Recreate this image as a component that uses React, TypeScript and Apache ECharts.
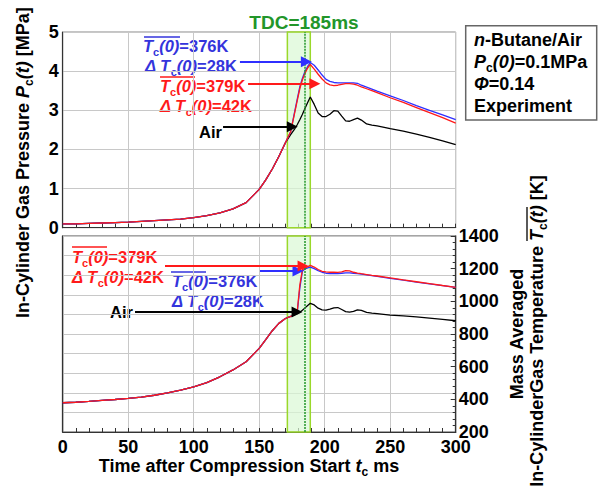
import React, { useEffect, useRef } from 'react';
import * as echarts from 'echarts';

// ---------- data ----------
const time = [0, 10, 20, 30, 40, 50, 60, 70, 80, 90, 100, 110, 120, 130, 140, 150, 155, 160, 165, 170,
  174, 177, 179, 181, 183, 185, 187, 189, 192, 195, 198, 201, 204, 207, 210, 213, 216, 219, 222, 225,
  228, 232, 236, 240, 250, 260, 270, 280, 290, 300];

// pressure [MPa], shared part up to 170 ms
const pressureCommon = [0.10, 0.10, 0.11, 0.12, 0.13, 0.14, 0.16, 0.18, 0.20, 0.22, 0.26, 0.31, 0.38, 0.48, 0.64, 0.98, 1.22, 1.50, 1.82, 2.17];
const pressureBlue = [2.45, 2.95, 3.28, 3.60, 3.82, 4.00, 4.12, 4.22, 4.15, 4.03, 3.90, 3.79, 3.74, 3.71, 3.70, 3.70, 3.70, 3.70, 3.70, 3.69, 3.64, 3.59, 3.54, 3.49, 3.37, 3.25, 3.12, 3.00, 2.88, 2.76];
const pressureRed = [2.45, 2.92, 3.24, 3.55, 3.78, 3.95, 4.08, 4.17, 4.05, 3.92, 3.80, 3.70, 3.65, 3.63, 3.64, 3.66, 3.68, 3.68, 3.67, 3.64, 3.60, 3.55, 3.50, 3.45, 3.32, 3.20, 3.07, 2.94, 2.81, 2.67];
const pressureAir = [2.38, 2.52, 2.63, 2.76, 2.90, 3.05, 3.20, 3.34, 3.15, 2.93, 2.84, 2.84, 2.90, 2.99, 2.98, 2.85, 2.73, 2.72, 2.76, 2.80, 2.75, 2.65, 2.62, 2.60, 2.53, 2.47, 2.39, 2.31, 2.22, 2.12];

// temperature [K], shared part up to 170 ms
const tempCommon = [379, 382, 387, 393, 399, 406, 414, 425, 440, 457, 477, 502, 538, 580, 630, 712, 765, 820, 865, 895];
const tempBlue = [908, 918, 930, 1080, 1185, 1198, 1205, 1210, 1200, 1188, 1178, 1172, 1170, 1170, 1170, 1172, 1174, 1174, 1172, 1170, 1166, 1162, 1157, 1153, 1141, 1130, 1118, 1107, 1096, 1085];
const tempRed = [908, 918, 935, 1100, 1195, 1205, 1212, 1220, 1210, 1195, 1183, 1180, 1178, 1178, 1177, 1180, 1188, 1186, 1178, 1173, 1169, 1164, 1159, 1155, 1143, 1131, 1120, 1109, 1097, 1086];
const tempAir = [908, 918, 925, 933, 945, 960, 975, 988, 978, 958, 948, 946, 952, 960, 962, 950, 937, 934, 938, 948, 945, 932, 928, 925, 916, 911, 905, 897, 889, 881];

const tdc = 185;
const tdcBand = [171.5, 189];

// ---------- styles ----------
const FONT = '"Liberation Sans", Arial, Helvetica, sans-serif';
const BLUE = '#2f2fff';
const BLUE_TXT = '#3434dc';
const RED = '#ff1a1a';
const GREEN = '#22962a';

const zip = (common: number[], tail: number[]) =>
  time.map((t, k) => [t, k < common.length ? common[k] : tail[k - common.length]]);

const mkRich = (color: string, size: number) => ({
  b: { fill: color, fontSize: size, fontWeight: 'bold', fontFamily: FONT, lineHeight: size + 6 },
  i: { fill: color, fontSize: size, fontWeight: 'bold', fontStyle: 'italic', fontFamily: FONT, lineHeight: size + 6 },
  s: { fill: color, fontSize: Math.round(size * 0.65), fontWeight: 'bold', fontFamily: FONT, lineHeight: 7, verticalAlign: 'bottom' },
});

const txt = (x: number, y: number, text: string, color: string, size: number, align = 'left') => ({
  type: 'text', x, y, silent: true,
  style: { text, rich: mkRich(color, size), fill: color, fontSize: size, fontWeight: 'bold', fontFamily: FONT, align, verticalAlign: 'middle' },
});

const over = (x: number, y: number, w: number, color: string) => ({
  type: 'line', silent: true,
  shape: { x1: x, y1: y, x2: x + w, y2: y },
  style: { stroke: color, lineWidth: 1.3 },
});

const arrow = (x1: number, x2: number, y: number, color: string) => ([
  { coord: [x1, y], symbol: 'none' },
  { coord: [x2, y], symbol: 'triangle', symbolSize: 11, lineStyle: { color, width: 2, type: 'solid' }, itemStyle: { color } },
]);

const bandArea = {
  silent: true,
  itemStyle: { color: 'rgba(218,248,212,0.7)', borderColor: '#9ad82a', borderWidth: 1.5 },
  data: [[{ xAxis: tdcBand[0] }, { xAxis: tdcBand[1] }]],
};

const tdcLine = { xAxis: tdc, symbol: 'none', lineStyle: { color: GREEN, width: 1.5, type: [2, 1] } };

const lineSeries = (name: string, data: number[][], color: string, xi: number, yi: number, extra: any = {}) => ({
  type: 'line', name, data, xAxisIndex: xi, yAxisIndex: yi, showSymbol: false, symbol: 'none',
  lineStyle: { color, width: 1.3 }, itemStyle: { color }, z: 3, ...extra,
});

const mkMark = (items: any[]) => ({
  silent: true, symbol: ['none', 'none'], label: { show: false },
  lineStyle: { type: 'solid' }, data: items,
});

const axisLabelStyle = { fontSize: 18, fontWeight: 'bold', color: '#000', fontFamily: FONT, lineHeight: 14 };
const gridLine = { show: true, lineStyle: { color: '#c8c8c8', width: 1 } };
const plain = (v: number) => String(v);

const option: any = {
  animation: false,
  backgroundColor: '#fff',
  grid: [
    { left: 62.7, top: 32, width: 393, height: 195.7, show: true, borderColor: '#888', borderWidth: 1 },
    { left: 62.7, top: 236, width: 393, height: 196, show: true, borderColor: '#888', borderWidth: 1.5 },
  ],
  xAxis: [
    {
      gridIndex: 0, type: 'value', min: 0, max: 300, interval: 50,
      axisLine: { lineStyle: { color: '#333', width: 1.2 } },
      axisTick: { show: true, inside: true, length: 4, lineStyle: { color: '#333' } },
      minorTick: { show: true, splitNumber: 5, length: 4, lineStyle: { color: '#333' } },
      axisLabel: { show: false }, splitLine: gridLine,
    },
    {
      gridIndex: 1, type: 'value', min: 0, max: 300, interval: 50,
      axisLine: { lineStyle: { color: '#333', width: 1.2 } },
      axisTick: { show: true, inside: true, length: 4, lineStyle: { color: '#333' } },
      minorTick: { show: true, splitNumber: 5, length: 4, lineStyle: { color: '#333' } },
      axisLabel: { ...axisLabelStyle, margin: 8, formatter: plain }, splitLine: gridLine,
    },
  ],
  yAxis: [
    {
      gridIndex: 0, type: 'value', min: 0, max: 5, interval: 1,
      axisLine: { show: true, lineStyle: { color: '#333', width: 1.2 } },
      axisTick: { show: false },
      axisLabel: { ...axisLabelStyle, margin: 4, formatter: plain }, splitLine: gridLine,
    },
    {
      gridIndex: 1, type: 'value', min: 0, max: 10, interval: 1,
      axisLine: { show: true, lineStyle: { color: '#333', width: 1.2 } },
      axisTick: { show: false }, axisLabel: { show: false }, splitLine: gridLine,
    },
    {
      gridIndex: 1, type: 'value', position: 'right', min: 200, max: 1400, interval: 200,
      axisLine: { show: true, lineStyle: { color: '#333', width: 1.2 } },
      axisTick: { show: true, inside: true, length: 5, lineStyle: { color: '#333' } },
      minorTick: { show: true, splitNumber: 5, length: 3, lineStyle: { color: '#333' } },
      axisLabel: { ...axisLabelStyle, margin: 3, formatter: plain }, splitLine: { show: false },
    },
  ],
  series: [
    lineSeries('Air P', zip(pressureCommon, pressureAir), '#000', 0, 0, {
      markArea: bandArea,
      markLine: mkMark([tdcLine, arrow(122.4, 175.3, 2.58, '#000')]),
    }),
    lineSeries('376K P', zip(pressureCommon, pressureBlue), BLUE, 0, 0, {
      markLine: mkMark([arrow(135.3, 186, 4.24, BLUE)]),
    }),
    lineSeries('379K P', zip(pressureCommon, pressureRed), RED, 0, 0, {
      markLine: mkMark([arrow(141.5, 192.5, 3.68, RED)]),
    }),
    lineSeries('Air T', zip(tempCommon, tempAir), '#000', 1, 2, {
      markArea: bandArea,
      markLine: mkMark([tdcLine, arrow(55.2, 178.9, 935, '#000')]),
    }),
    lineSeries('376K T', zip(tempCommon, tempBlue), BLUE, 1, 2, {
      markLine: mkMark([arrow(150.6, 179.6, 1186, BLUE)]),
    }),
    lineSeries('379K T', zip(tempCommon, tempRed), RED, 1, 2, {
      markLine: mkMark([arrow(78.1, 183.5, 1216, RED)]),
    }),
  ],
  graphic: [
    // TDC label
    txt(304, 22, '{b|TDC=185ms}', GREEN, 19, 'center'),
    // top panel annotations
    txt(143, 46, '{i|T}{s|c}{i|(0)}{b|=376K}', BLUE_TXT, 16.5),
    over(144, 37, 36, BLUE_TXT),
    txt(145, 66, '{i|Δ T}{s|c}{i|(0)}{b|=28K}', BLUE_TXT, 16.5),
    txt(160, 86, '{i|T}{s|c}{i|(0)}{b|=379K}', RED, 16.5),
    over(160, 77, 35, RED),
    txt(160, 106, '{i|Δ T}{s|c}{i|(0)}{b|=42K}', RED, 16.5),
    txt(199, 132, '{b|Air}', '#000', 16.5),
    // bottom panel annotations
    txt(72, 257, '{i|T}{s|c}{i|(0)}{b|=379K}', RED, 16.5),
    over(72, 247, 35, RED),
    txt(72, 277, '{i|Δ T}{s|c}{i|(0)}{b|=42K}', RED, 16.5),
    txt(172, 281, '{i|T}{s|c}{i|(0)}{b|=376K}', BLUE_TXT, 16.5),
    over(171, 272, 35, BLUE_TXT),
    txt(172, 301, '{i|Δ T}{s|c}{i|(0)}{b|=28K}', BLUE_TXT, 16.5),
    txt(110, 312, '{b|Air}', '#000', 16.5),
    // condition box
    {
      type: 'rect', silent: true, shape: { x: 465.7, y: 25.7, width: 131, height: 94.3 },
      style: { fill: '#fff', stroke: '#666', lineWidth: 1.5 },
    },
    txt(474, 40, '{i|n}{b|-Butane/Air}', '#000', 18),
    txt(474, 62, '{i|P}{s|c}{i|(0)}{b|=0.1MPa}', '#000', 18),
    txt(474, 84, '{i|Φ}{b|=0.14}', '#000', 18),
    txt(474, 106, '{b|Experiment}', '#000', 18),
    // x-axis title
    txt(249, 466, '{b|Time after Compression Start }{i|t}{s|c}{b| ms}', '#000', 18, 'center'),
    // left axis title (rotated)
    {
      type: 'group', x: 23, y: 98, rotation: Math.PI / 2,
      children: [
        txt(0, 0, '{b|In-Cylinder Gas Pressure }', '#000', 18, 'right'),
        txt(0, 0, '{i|P}{s|c}{i|(t)}{b| [MPa]}', '#000', 18, 'left'),
      ],
    },
    // right axis title (rotated, two lines)
    {
      type: 'group', x: 517, y: 334, rotation: Math.PI / 2,
      children: [txt(0, 0, '{b|Mass Averaged}', '#000', 18, 'center')],
    },
    {
      type: 'group', x: 537, y: 241, rotation: Math.PI / 2,
      children: [
        txt(0, 0, '{b|In-CylinderGas Temperature }', '#000', 18, 'right'),
        txt(0, 0, '{i|T}{s|c}{i|(t)}{b| [K]}', '#000', 18, 'left'),
        over(0, -10, 34, '#000'),
      ],
    },
  ],
};

export default function App() {
  const ref = useRef<HTMLDivElement>(null);
  useEffect(() => {
    const chart = echarts.init(ref.current!, null, { renderer: 'svg' });
    chart.setOption(option);
    return () => chart.dispose();
  }, []);
  return <div ref={ref} style={{ position: 'fixed', left: 0, top: 0, width: 601, height: 492 }} />;
}
